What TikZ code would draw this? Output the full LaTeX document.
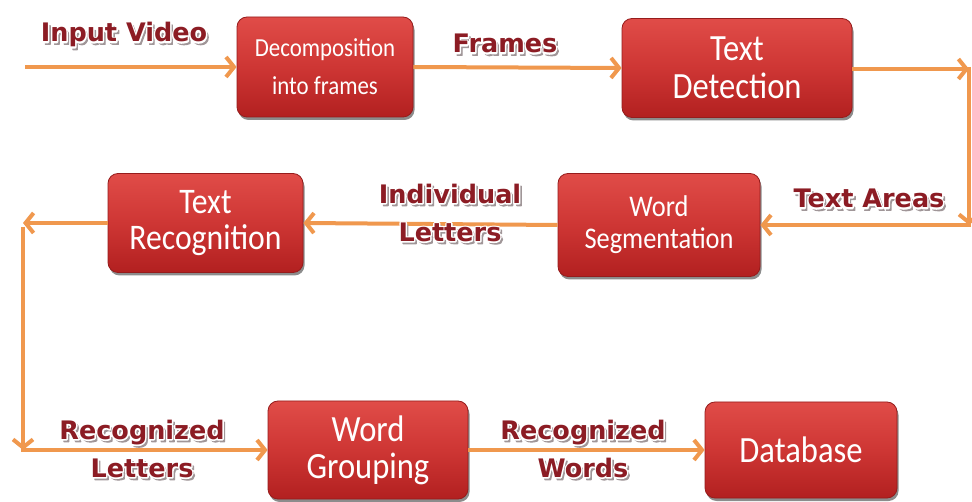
\documentclass[tikz,border=0pt]{standalone}
\usepackage{fontspec}
\usetikzlibrary{arrows.meta,shadows}
\setmainfont{Carlito}
\newfontfamily\boxfont{Carlito}[FakeStretch=0.88]
\newfontfamily\lblfont{DejaVu Sans Bold}

\definecolor{flowcol}{RGB}{240,152,78}
\definecolor{boxtop}{RGB}{224,76,72}
\definecolor{boxmid}{RGB}{206,54,52}
\definecolor{boxbot}{RGB}{178,32,32}
\definecolor{boxedge}{RGB}{150,28,28}
\definecolor{lbltext}{RGB}{140,28,36}
\definecolor{lblshadow}{RGB}{160,150,152}

% text drawn as filled and stroked glyphs (xdvipdfmx text render mode 2)
\newcommand{\strokedtext}[2]{%
  \special{pdf:literal direct 2 Tr #1 w 1 j}#2\special{pdf:literal direct 0 Tr}}

% embossed caption text: grey drop shadow, white rim, dark red face
\newcommand{\embossed}[1]{%
  \leavevmode
  \rlap{\textcolor{lblshadow}{\kern2.2pt\raisebox{-2.4pt}{\strokedtext{1.2}{#1}}}}%
  \rlap{\textcolor{white}{\strokedtext{2.8}{#1}}}%
  \textcolor{lbltext}{#1}}

\tikzset{
  stagebox/.style={rectangle, rounded corners=10pt, draw=boxedge, line width=0.8pt,
    top color=boxtop, bottom color=boxbot, middle color=boxmid,
    drop shadow={shadow xshift=1.5pt, shadow yshift=-3pt, opacity=0.45, fill=black},
    text=white, align=center, inner sep=0pt},
  caption/.style={inner sep=0pt, align=center, font=\lblfont\fontsize{25.5}{38}\selectfont},
  flow/.style={draw=flowcol, line width=4pt,
    -{Straight Barb[length=8pt, width=20pt]}},
}

\begin{document}
\begin{tikzpicture}[x=1pt, y=-1pt]
  \useasboundingbox (0,0) rectangle (972,502);
  \fill[white] (0,0) rectangle (972,502);

  % processing stages
  \node[stagebox, minimum width=176pt, minimum height=100pt,
        font=\boxfont\fontsize{26}{38}\selectfont] (dec) at (325,67)
    {Decomposition\\into frames};
  \node[stagebox, minimum width=230pt, minimum height=99pt,
        font=\boxfont\fontsize{37}{38}\selectfont] (det) at (737,68)
    {Text\\Detection};
  \node[stagebox, minimum width=202pt, minimum height=103pt,
        font=\boxfont\fontsize{30}{32}\selectfont] (seg) at (659,225)
    {Word\\Segmentation};
  \node[stagebox, minimum width=195pt, minimum height=99pt,
        font=\boxfont\fontsize{36}{36}\selectfont] (rec) at (205.5,223)
    {Text\\Recognition};
  \node[stagebox, minimum width=200pt, minimum height=98pt,
        font=\boxfont\fontsize{37}{37}\selectfont] (grp) at (368,450)
    {Word\\Grouping};
  \node[stagebox, minimum width=192pt, minimum height=96pt,
        font=\boxfont\fontsize{37}{38}\selectfont] (db) at (801,450)
    {Database};

  % bends of the flow
  \coordinate (src) at (25,67);
  \coordinate (rt) at (969,69);
  \coordinate (rb) at (969,225);
  \coordinate (lt) at (23,223);
  \coordinate (lb) at (23,450);

  % connectors
  \draw[flow] (src) -- (dec.west);
  \draw[flow] (dec.east) -- (det.west);
  \draw[flow] ([yshift=-1pt]det.east) -- (rt);
  \draw[flow] ([yshift=2pt]rt) -- (rb);
  \draw[flow] ([xshift=2pt]rb) -- (seg.east);
  \draw[flow] (seg.west) -- (rec.east);
  \draw[flow] (rec.west) -- (lt);
  \draw[flow] ([yshift=-4pt]lt) -- (lb);
  \draw[flow] ([xshift=-2pt]lb) -- (grp.west);
  \draw[flow] (grp.east) -- (db.west);

  % captions on the connectors
  \node[caption, anchor=base] (lin) at (124,42) {\embossed{Input Video}};
  \node[caption, anchor=base] (lfr) at (505,53) {\embossed{Frames}};
  \node[caption, anchor=base] (lta) at (869,208) {\embossed{Text Areas}};
  \node[caption] (lil) at (450,214) {\embossed{Individual}\\\embossed{Letters}};
  \node[caption] (lrl) at (142,450) {\embossed{Recognized}\\\embossed{Letters}};
  \node[caption] (lrw) at (583,450) {\embossed{Recognized}\\\embossed{Words}};
\end{tikzpicture}
\end{document}
